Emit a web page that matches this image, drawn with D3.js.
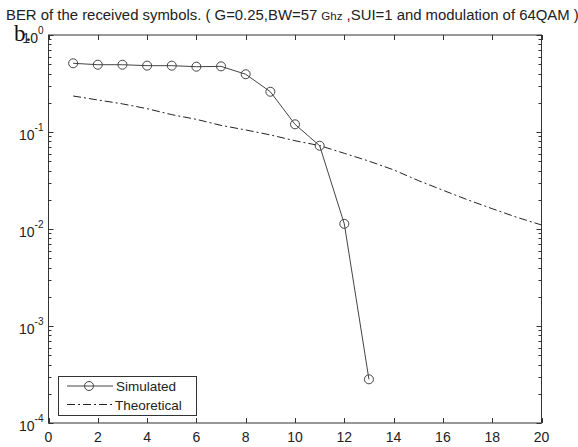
<!DOCTYPE html>
<html><head><meta charset="utf-8">
<script src="https://cdn.jsdelivr.net/npm/d3@7"></script>
<style>body{margin:0;background:#fff}svg{display:block;font-family:"Liberation Sans",Arial,sans-serif}</style>
</head><body>
<svg id="c" width="578" height="447"></svg>
<script>
const titleText = "BER of the received symbols. ( G=0.25,BW=57 ";
const titleUnit = "Ghz";
const titleRest = " ,SUI=1 and modulation of 64QAM )";
const simX = [1,2,3,4,5,6,7,8,9,10,11,12,13];
const simY = [0.511,0.494,0.494,0.483,0.483,0.471,0.475,0.394,0.260,0.120,0.0722,0.0113,0.000282];
const theoX = [1,2,3,4,5,6,7,8,9,10,11,12,13,14,15,16,17,18,19,20];
const theoY = [0.235,0.214,0.195,0.174,0.151,0.135,0.117,0.105,0.0933,0.0813,0.0724,0.0603,0.0501,0.0407,0.0316,0.0251,0.0200,0.0162,0.0132,0.011];
const xTicks = [0,2,4,6,8,10,12,14,16,18,20];
const yExps = [0,-1,-2,-3,-4];
const legendLabels = ["Simulated","Theoretical"];

const svg = d3.select("#c");
const L=48.5, R=541.5, T=35, B=423;
const x = d3.scaleLinear().domain([0,20]).range([L,R]);
const y = d3.scaleLog().domain([1e-4,1]).range([B,T]);
const ink = "#333";

svg.append("rect").attr("x",L).attr("y",T).attr("width",R-L).attr("height",B-T)
  .attr("fill","none").attr("stroke",ink).attr("stroke-width",1);

const tl = 5;
xTicks.forEach(t=>{
  const px = Math.round(x(t))+0.5;
  svg.append("line").attr("x1",px).attr("x2",px).attr("y1",B).attr("y2",B-tl).attr("stroke",ink);
  svg.append("line").attr("x1",px).attr("x2",px).attr("y1",T).attr("y2",T+tl).attr("stroke",ink);
  svg.append("text").attr("x",x(t)).attr("y",B+19).attr("text-anchor","middle")
    .attr("font-size",14).attr("fill","#222").text(t);
});

yExps.forEach(e=>{
  const py = Math.round(y(Math.pow(10,e)))+0.5;
  svg.append("line").attr("x1",L).attr("x2",L+tl).attr("y1",py).attr("y2",py).attr("stroke",ink);
  svg.append("line").attr("x1",R).attr("x2",R-tl).attr("y1",py).attr("y2",py).attr("stroke",ink);
  const tx = svg.append("text").attr("x",L-5).attr("y",py+7).attr("text-anchor","end")
    .attr("font-size",14).attr("fill","#222");
  tx.append("tspan").text("10");
  tx.append("tspan").attr("dy",-9).attr("font-size",10).text(String(e));
  if(e>-4){
    for(let m=2;m<=9;m++){
      const v = m*Math.pow(10,e-1);
      const my = Math.round(y(v))+0.5;
      svg.append("line").attr("x1",L).attr("x2",L+3).attr("y1",my).attr("y2",my).attr("stroke",ink);
      svg.append("line").attr("x1",R).attr("x2",R-3).attr("y1",my).attr("y2",my).attr("stroke",ink);
    }
  }
});

// artifact glyph overlapping the top label, as in the reference
svg.append("text").attr("x",14).attr("y",41).attr("font-family","Liberation Serif, serif")
  .attr("font-size",23).attr("fill","#111").text("b.");

const tt = svg.append("text").attr("x",6).attr("y",20).attr("font-size",14.9).attr("fill","#222");
tt.append("tspan").text(titleText);
tt.append("tspan").attr("font-size",11.5).text(titleUnit);
tt.append("tspan").text(titleRest);

const line = d3.line().x(d=>x(d[0])).y(d=>y(d[1]));
svg.append("path").datum(theoX.map((v,i)=>[v,theoY[i]])).attr("d",line)
  .attr("fill","none").attr("stroke","#222").attr("stroke-width",1).attr("stroke-dasharray","8,3,2,3");

const simData = simX.map((v,i)=>[v,simY[i]]);
svg.append("path").datum(simData).attr("d",line).attr("fill","none").attr("stroke","#444").attr("stroke-width",1);
svg.selectAll("circle.s").data(simData).enter().append("circle").attr("class","s")
  .attr("cx",d=>x(d[0])).attr("cy",d=>y(d[1])).attr("r",4.5)
  .attr("fill","none").attr("stroke","#444").attr("stroke-width",1);

const lg = svg.append("g");
lg.append("rect").attr("x",58.5).attr("y",376.5).attr("width",138).attr("height",39)
  .attr("fill","#fff").attr("stroke",ink);
lg.append("line").attr("x1",67).attr("x2",113).attr("y1",386).attr("y2",386).attr("stroke","#444");
lg.append("circle").attr("cx",89).attr("cy",386).attr("r",4.5).attr("fill","none").attr("stroke","#444");
lg.append("text").attr("x",116).attr("y",391).attr("font-size",13.5).attr("fill","#222").text(legendLabels[0]);
lg.append("line").attr("x1",67).attr("x2",113).attr("y1",404.5).attr("y2",404.5).attr("stroke","#222").attr("stroke-dasharray","8,3,2,3");
lg.append("text").attr("x",115).attr("y",409.5).attr("font-size",13.5).attr("fill","#222").text(legendLabels[1]);
</script>
</body></html>
